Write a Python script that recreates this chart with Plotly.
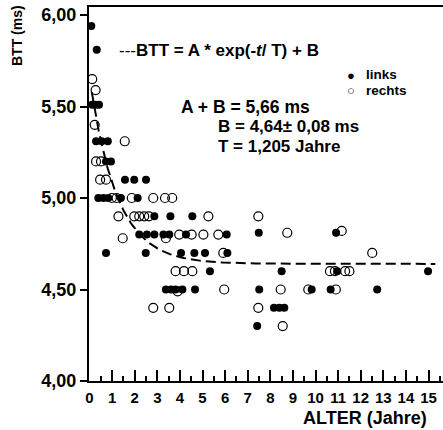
import numpy as np
import plotly.graph_objects as go

# ---- data ----
links_t = [0.08, 0.32, 0.12, 0.27, 0.42, 0.29, 0.54, 0.81, 0.73, 0.95,
           1.57, 1.98, 2.50, 0.39, 0.61, 0.83, 1.39, 2.13,
           2.87, 3.58, 4.55,
           2.20, 2.54, 2.87, 3.27, 3.53, 4.27, 6.07, 7.49, 10.91,
           0.73, 2.49, 4.05, 4.64, 5.11, 6.10,
           5.33, 8.50, 10.96, 14.98,
           3.38, 3.61, 3.81, 4.11, 4.67, 7.51, 9.83, 10.67, 12.73,
           8.16, 8.40, 8.62,
           7.42]
links_btt = [5.94, 5.81, 5.51, 5.51, 5.51, 5.31, 5.31, 5.31, 5.20, 5.20,
             5.10, 5.10, 5.10, 5.00, 5.00, 5.00, 5.00, 5.00,
             4.90, 4.90, 4.90,
             4.80, 4.80, 4.80, 4.80, 4.80, 4.80, 4.80, 4.81, 4.81,
             4.70, 4.70, 4.70, 4.70, 4.70, 4.70,
             4.60, 4.60, 4.60, 4.60,
             4.50, 4.50, 4.50, 4.50, 4.50, 4.50, 4.50, 4.50, 4.50,
             4.40, 4.40, 4.40,
             4.30]

rechts_t = [0.12, 0.27, 0.23, 1.56, 0.29, 0.51, 0.47, 0.73,
            0.99, 1.20, 1.87, 2.82, 3.34, 3.66,
            1.28, 1.98, 2.20, 2.42, 2.63, 5.26, 7.47,
            3.97, 4.52, 5.04, 5.70, 8.75, 11.16,
            1.47, 3.38,
            5.92, 12.51,
            3.81, 4.18, 4.55, 10.64, 10.86, 11.31, 11.50,
            3.90, 5.96, 8.46, 9.68, 10.90,
            2.82, 3.53, 7.47,
            8.55]
rechts_btt = [5.65, 5.59, 5.40, 5.31, 5.20, 5.20, 5.10, 5.10,
              5.00, 5.00, 5.00, 5.00, 5.00, 5.00,
              4.90, 4.90, 4.90, 4.90, 4.90, 4.90, 4.90,
              4.80, 4.80, 4.80, 4.80, 4.81, 4.82,
              4.78, 4.78,
              4.70, 4.70,
              4.60, 4.60, 4.60, 4.60, 4.60, 4.60, 4.60,
              4.49, 4.50, 4.50, 4.50, 4.50,
              4.40, 4.40, 4.40,
              4.30]

# fit parameters shown on the chart
A_plus_B = 5.66
B = 4.64
T = 1.205
fit_t_start, fit_t_end = 0.1, 15.3

y_ticks = [4.0, 4.5, 5.0, 5.5, 6.0]
x_ticks = list(range(0, 16))

FONT = "Liberation Sans, Arial, sans-serif"

fit_t = np.linspace(fit_t_start, fit_t_end, 300)
fit_y = B + (A_plus_B - B) * np.exp(-fit_t / T)

fig = go.Figure()
fig.add_trace(go.Scatter(x=fit_t, y=fit_y, mode="lines",
                         line=dict(color="black", width=2, dash="10px,5px"),
                         showlegend=False, hoverinfo="skip"))
fig.add_trace(go.Scatter(x=rechts_t, y=rechts_btt, mode="markers",
                         marker=dict(symbol="circle-open", size=9, color="black",
                                     line=dict(width=1.2, color="black")),
                         showlegend=False))
fig.add_trace(go.Scatter(x=links_t, y=links_btt, mode="markers",
                         marker=dict(symbol="circle", size=8, color="black"),
                         showlegend=False))

L, R, TOP, BOT = 89, 443, 7, 381


def px(xp):
    return (xp - L) / (R - L)


def py(yp):
    return (BOT - yp) / (BOT - TOP)


ann = []


def txt(text, x, y, size, xanchor="left", bold=True, angle=0, yanchor="middle"):
    ann.append(dict(text=f"<b>{text}</b>" if bold else text, x=px(x), y=py(y),
                    xref="paper", yref="paper", showarrow=False,
                    xanchor=xanchor, yanchor=yanchor, textangle=angle,
                    font=dict(family=FONT, size=size, color="black")))


txt("<span style='font-weight:normal'>---</span>BTT = A * exp(-<i>t</i>/ T) + B", 117, 50, 17)
txt("●", 351, 76, 13, xanchor="center", bold=False)
txt("○", 351, 90, 13, xanchor="center", bold=False)
txt("links", 364, 75, 13.5)
txt("rechts", 364, 90, 13.5)
txt("A + B = 5,66 ms", 179, 107, 17.5)
txt("B = 4,64± 0,08 ms", 216, 127, 17)
txt("T = 1,205 Jahre", 216, 146, 17)
txt("ALTER (Jahre)", 429, 418, 18, xanchor="right")
txt("BTT (ms)", 17, 36, 14, xanchor="center", angle=-90)

x_lo = -0.5 / 22.6
x_hi = (R - L - 0.5) / 22.6

fig.update_layout(
    width=443, height=430,
    margin=dict(l=L, r=443 - R, t=TOP, b=430 - BOT),
    paper_bgcolor="white", plot_bgcolor="white",
    separators=",.",
    annotations=ann,
    xaxis=dict(range=[x_lo, x_hi], tickmode="array", tickvals=x_ticks,
               ticks="inside", ticklen=11, tickwidth=1.5, tickcolor="black",
               minor=dict(dtick=0.5, ticks="inside", ticklen=5, tickwidth=1.5,
                          tickcolor="black", showgrid=False),
               showline=True, linecolor="black", linewidth=2, mirror=True,
               showgrid=False, zeroline=False,
               tickfont=dict(family=FONT, size=15, color="black", weight="bold"),
               ticklabelstandoff=2),
    yaxis=dict(range=[4.0, 4.0 + (BOT - TOP) / 183.0], tickmode="array", tickvals=y_ticks,
               tickformat=".2f",
               ticks="outside", ticklen=7, tickwidth=1.5, tickcolor="black",
               showline=True, linecolor="black", linewidth=2,
               showgrid=False, zeroline=False,
               tickfont=dict(family=FONT, size=18, color="black", weight="bold")),
)

fig.write_html("out.html", config={"displayModeBar": False},
               post_script="document.body.style.margin='0';document.body.style.overflow='hidden';")
